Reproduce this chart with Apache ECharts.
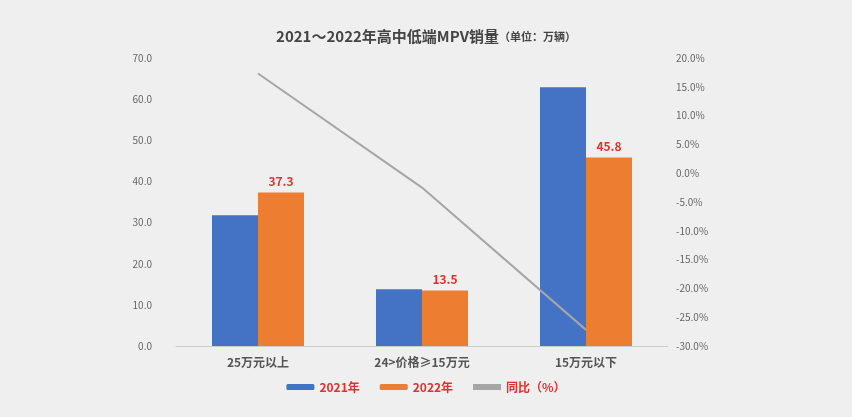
<!DOCTYPE html><html><head><meta charset="utf-8">
<script src="https://cdn.jsdelivr.net/npm/echarts@6/dist/echarts.min.js"></script>
<style>body{margin:0;background:#efefef}#c{width:852px;height:417px}</style></head><body><div id="c"></div>
<script>
const categories=['25万元以上','24>价格≥15万元','15万元以下'];
const sales2021=[31.8,13.8,62.9];
const sales2022=[37.3,13.5,45.8];
const yoy=[17.3,-2.5,-27.2];
const font='"Noto Sans CJK SC"';
const labelPos=['left','inside','right'];
const c=echarts.init(document.getElementById('c'));
c.setOption({
backgroundColor:'#efefef',
textStyle:{fontFamily:font},
title:{text:'{a|2021～2022年高中低端MPV销量}{b|（单位：万辆）}',left:'center',top:24,
 textStyle:{rich:{a:{fontSize:15,color:'#444',fontFamily:font},b:{fontSize:11,color:'#444',fontFamily:font}}}},
legend:{top:376,itemWidth:28,itemHeight:6,itemGap:20,textStyle:{color:'#e03030',fontSize:12,fontWeight:'bold'},
 data:['2021年','2022年',{name:'同比（%）',icon:'rect'}]},
grid:{left:176,right:184,top:58,bottom:71},
xAxis:{type:'category',data:categories,axisTick:{show:false},axisLine:{lineStyle:{color:'#ccc'}},axisLabel:{color:'#555',fontSize:12,fontWeight:'bold',margin:10}},
yAxis:[{type:'value',min:0,max:70,interval:10,axisLabel:{formatter:v=>v.toFixed(1),color:'#666',fontSize:10,margin:24},splitLine:{show:false}},
{type:'value',min:-30,max:20,interval:5,axisLabel:{formatter:v=>v.toFixed(1)+'%',color:'#666',fontSize:10},splitLine:{show:false}}],
series:[
{name:'2021年',type:'bar',data:sales2021,barWidth:46,barGap:'0%',itemStyle:{color:'#4472c4'}},
{name:'2022年',type:'bar',data:sales2022,barWidth:46,itemStyle:{color:'#ed7d31'},label:{show:true,position:'top',color:'#e03030',fontWeight:'bold',fontSize:12,formatter:p=>p.value.toFixed(1)}},
{name:'同比（%）',type:'line',yAxisIndex:1,symbol:'none',lineStyle:{color:'#a6a6a6',width:2},itemStyle:{color:'#a6a6a6'},
 data:yoy.map((v,i)=>({value:v,label:{position:labelPos[i]}})),
 label:{show:true,color:'#333',fontWeight:'bold',fontSize:12,formatter:p=>p.value+'%',backgroundColor:'#efefef',padding:[1,2]}}
]});
</script></body></html>
